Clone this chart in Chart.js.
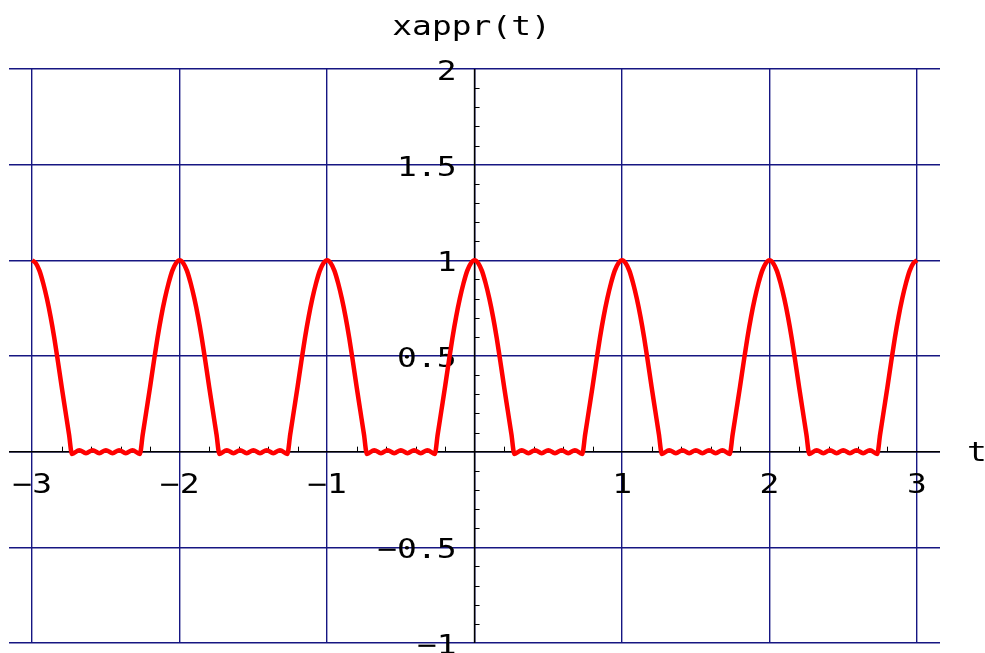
<!DOCTYPE html>
<html>
<head>
<meta charset="utf-8">
<title>xappr(t)</title>
<script src="https://cdn.jsdelivr.net/npm/chart.js@4/dist/chart.umd.min.js"></script>
<style>
  html, body { margin: 0; padding: 0; background: #ffffff; }
  #contenedor { width: 985px; height: 653px; }
</style>
</head>
<body>
<div id="contenedor"><canvas id="grafico" width="985" height="653"></canvas></div>
<script>
/* Aproximación de la señal periódica xappr(t) */

// Instantes de tiempo (t) de cada punto de la curva
const tiempos = [
  -3, -2.975, -2.95, -2.925, -2.9, -2.875, -2.85, -2.825, -2.8, -2.775, -2.75, -2.73, -2.68, -2.635, -2.59, -2.545,
  -2.5, -2.455, -2.41, -2.365, -2.32, -2.27, -2.25, -2.225, -2.2, -2.175, -2.15, -2.125, -2.1, -2.075, -2.05, -2.025,
  -2, -1.975, -1.95, -1.925, -1.9, -1.875, -1.85, -1.825, -1.8, -1.775, -1.75, -1.73, -1.68, -1.635, -1.59, -1.545,
  -1.5, -1.455, -1.41, -1.365, -1.32, -1.27, -1.25, -1.225, -1.2, -1.175, -1.15, -1.125, -1.1, -1.075, -1.05, -1.025,
  -1, -0.975, -0.95, -0.925, -0.9, -0.875, -0.85, -0.825, -0.8, -0.775, -0.75, -0.73, -0.68, -0.635, -0.59, -0.545,
  -0.5, -0.455, -0.41, -0.365, -0.32, -0.27, -0.25, -0.225, -0.2, -0.175, -0.15, -0.125, -0.1, -0.075, -0.05, -0.025,
  0, 0.025, 0.05, 0.075, 0.1, 0.125, 0.15, 0.175, 0.2, 0.225, 0.25, 0.27, 0.32, 0.365, 0.41, 0.455,
  0.5, 0.545, 0.59, 0.635, 0.68, 0.73, 0.75, 0.775, 0.8, 0.825, 0.85, 0.875, 0.9, 0.925, 0.95, 0.975,
  1, 1.025, 1.05, 1.075, 1.1, 1.125, 1.15, 1.175, 1.2, 1.225, 1.25, 1.27, 1.32, 1.365, 1.41, 1.455,
  1.5, 1.545, 1.59, 1.635, 1.68, 1.73, 1.75, 1.775, 1.8, 1.825, 1.85, 1.875, 1.9, 1.925, 1.95, 1.975,
  2, 2.025, 2.05, 2.075, 2.1, 2.125, 2.15, 2.175, 2.2, 2.225, 2.25, 2.27, 2.32, 2.365, 2.41, 2.455,
  2.5, 2.545, 2.59, 2.635, 2.68, 2.73, 2.75, 2.775, 2.8, 2.825, 2.85, 2.875, 2.9, 2.925, 2.95, 2.975,
  3
];

const valores = [
  1, 0.985, 0.945, 0.88, 0.8, 0.705, 0.595, 0.47, 0.34, 0.215, 0.09, -0.012, 0.008, -0.008, 0.008, -0.008,
  0.008, -0.008, 0.008, -0.008, 0.008, -0.012, 0.09, 0.215, 0.34, 0.47, 0.595, 0.705, 0.8, 0.88, 0.945, 0.985,
  1, 0.985, 0.945, 0.88, 0.8, 0.705, 0.595, 0.47, 0.34, 0.215, 0.09, -0.012, 0.008, -0.008, 0.008, -0.008,
  0.008, -0.008, 0.008, -0.008, 0.008, -0.012, 0.09, 0.215, 0.34, 0.47, 0.595, 0.705, 0.8, 0.88, 0.945, 0.985,
  1, 0.985, 0.945, 0.88, 0.8, 0.705, 0.595, 0.47, 0.34, 0.215, 0.09, -0.012, 0.008, -0.008, 0.008, -0.008,
  0.008, -0.008, 0.008, -0.008, 0.008, -0.012, 0.09, 0.215, 0.34, 0.47, 0.595, 0.705, 0.8, 0.88, 0.945, 0.985,
  1, 0.985, 0.945, 0.88, 0.8, 0.705, 0.595, 0.47, 0.34, 0.215, 0.09, -0.012, 0.008, -0.008, 0.008, -0.008,
  0.008, -0.008, 0.008, -0.008, 0.008, -0.012, 0.09, 0.215, 0.34, 0.47, 0.595, 0.705, 0.8, 0.88, 0.945, 0.985,
  1, 0.985, 0.945, 0.88, 0.8, 0.705, 0.595, 0.47, 0.34, 0.215, 0.09, -0.012, 0.008, -0.008, 0.008, -0.008,
  0.008, -0.008, 0.008, -0.008, 0.008, -0.012, 0.09, 0.215, 0.34, 0.47, 0.595, 0.705, 0.8, 0.88, 0.945, 0.985,
  1, 0.985, 0.945, 0.88, 0.8, 0.705, 0.595, 0.47, 0.34, 0.215, 0.09, -0.012, 0.008, -0.008, 0.008, -0.008,
  0.008, -0.008, 0.008, -0.008, 0.008, -0.012, 0.09, 0.215, 0.34, 0.47, 0.595, 0.705, 0.8, 0.88, 0.945, 0.985,
  1
];

// Marcas y etiquetas de los ejes
const marcasX = [-3, -2, -1, 1, 2, 3];
const etiquetasX = ["\u22123", "\u22122", "\u22121", "1", "2", "3"];
const marcasY = [2, 1.5, 1, 0.5, -0.5, -1];
const etiquetasY = ["2", "1.5", "1", "0.5", "\u22120.5", "\u22121"];

const colorGrilla = "rgb(22,22,130)";
const fuente = "27px 'DejaVu Sans Mono'";
const estirado = 1.22;

// Texto monoespaciado algo ensanchado
function escribir(ctx, texto, x, y, alineado) {
  ctx.save();
  ctx.font = fuente;
  ctx.fillStyle = "#000000";
  ctx.textBaseline = "alphabetic";
  let ancho = ctx.measureText(texto).width * estirado;
  let x0 = x;
  if (alineado === "center") x0 = x - ancho / 2;
  if (alineado === "right") x0 = x - ancho;
  ctx.translate(x0, y);
  ctx.scale(estirado, 1);
  ctx.textAlign = "left";
  ctx.fillText(texto, 0, 0);
  ctx.restore();
}

// Ejes que cruzan en el origen, marcas menores y textos
const ejesCentrados = {
  id: "ejesCentrados",
  beforeDatasetsDraw(chart) {
    const ctx = chart.ctx;
    const area = chart.chartArea;
    const sx = chart.scales.x;
    const sy = chart.scales.y;
    const x0 = sx.getPixelForValue(0);
    const y0 = sy.getPixelForValue(0);

    ctx.save();
    ctx.strokeStyle = "#000000";
    ctx.lineWidth = 1.5;
    ctx.beginPath();
    ctx.moveTo(area.left, y0);
    ctx.lineTo(area.right, y0);
    ctx.moveTo(x0, area.top);
    ctx.lineTo(x0, area.bottom);
    ctx.stroke();

    // Marcas menores del eje t cada 0.2
    ctx.lineWidth = 1;
    ctx.beginPath();
    for (let i = -15; i <= 15; i++) {
      if (i % 5 === 0) continue;
      let px = Math.round(sx.getPixelForValue(i / 5)) + 0.5;
      ctx.moveTo(px, y0);
      ctx.lineTo(px, y0 - 5);
    }
    // Marcas menores del eje vertical cada 0.1
    for (let j = -10; j <= 20; j++) {
      if (j % 5 === 0) continue;
      let py = Math.round(sy.getPixelForValue(j / 10)) + 0.5;
      ctx.moveTo(x0, py);
      ctx.lineTo(x0 + 5, py);
    }
    ctx.stroke();
    ctx.restore();

    for (let i = 0; i < marcasX.length; i++) {
      escribir(ctx, etiquetasX[i], sx.getPixelForValue(marcasX[i]), y0 + 41, "center");
    }
    for (let j = 0; j < marcasY.length; j++) {
      escribir(ctx, etiquetasY[j], x0 - 18, sy.getPixelForValue(marcasY[j]) + 11, "right");
    }
    escribir(ctx, "xappr(t)", x0 - 3, 35, "center");
    escribir(ctx, "t", area.right + 37, y0 + 9, "center");
  }
};

const puntos = tiempos.map((t, i) => ({ x: t, y: valores[i] }));

const grafico = new Chart(document.getElementById("grafico"), {
  type: "line",
  data: {
    datasets: [
      {
        label: "xappr(t)",
        data: puntos,
        borderColor: "#ff0000",
        borderWidth: 4.5,
        pointRadius: 0,
        cubicInterpolationMode: "monotone",
        fill: false
      }
    ]
  },
  options: {
    responsive: false,
    animation: false,
    events: [],
    layout: {
      padding: { left: 9, right: 45, top: 69, bottom: 10 }
    },
    plugins: {
      legend: { display: false },
      tooltip: { enabled: false },
      title: { display: false }
    },
    scales: {
      x: {
        type: "linear",
        min: -3.157,
        max: 3.156,
        afterBuildTicks(scale) {
          scale.ticks = marcasX.concat([0]).map(v => ({ value: v }));
        },
        ticks: { display: false },
        border: { display: false },
        grid: { color: colorGrilla, lineWidth: 1.4, drawTicks: false }
      },
      y: {
        type: "linear",
        min: -1,
        max: 2,
        afterBuildTicks(scale) {
          scale.ticks = marcasY.concat([0]).map(v => ({ value: v }));
        },
        ticks: { display: false },
        border: { display: false },
        grid: { color: colorGrilla, lineWidth: 1.4, drawTicks: false }
      }
    }
  },
  plugins: [ejesCentrados]
});
</script>
</body>
</html>
